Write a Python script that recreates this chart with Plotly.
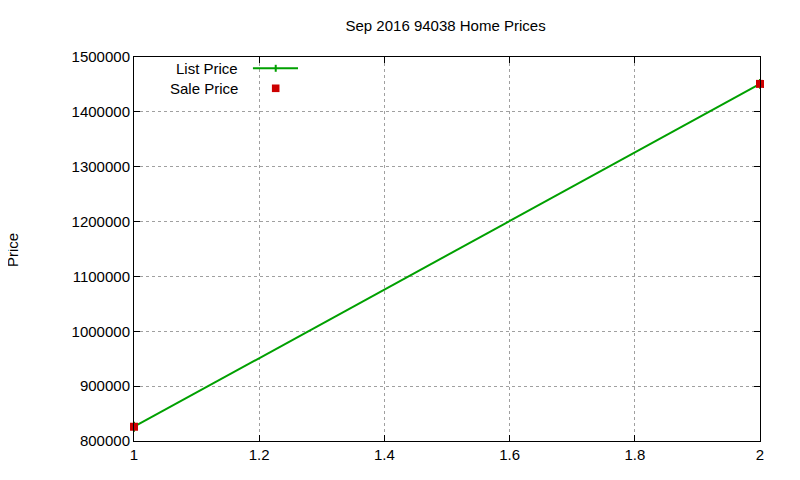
import plotly.graph_objects as go

# listings for Sep 2016, 94038
x_idx = [1, 2]
list_price = [826000, 1451000]
sale_price = [826000, 1451000]
y_ticks = [800000, 900000, 1000000, 1100000, 1200000, 1300000, 1400000, 1500000]
x_ticks = [1, 1.2, 1.4, 1.6, 1.8, 2]

verde = '#00a000'
vermelho = '#cc0000'
fonte = dict(family='Liberation Sans, Arial', size=15, color='black')

fig = go.Figure()
fig.add_trace(go.Scatter(x=x_idx, y=list_price, mode='lines+markers', name='List Price',
                         line=dict(color=verde, width=2),
                         marker=dict(symbol='line-ns', size=7, line=dict(color=verde, width=2)),
                         cliponaxis=False))
fig.add_trace(go.Scatter(x=x_idx, y=sale_price, mode='markers', name='Sale Price',
                         marker=dict(symbol='square', size=8, color=vermelho),
                         cliponaxis=False))

eixo = dict(showline=True, linecolor='black', linewidth=1, mirror='allticks',
            ticks='inside', ticklen=6, tickcolor='black',
            showgrid=True, gridcolor='#a0a0a0', griddash='dot', gridwidth=1,
            zeroline=False, tickfont=fonte)

fig.update_xaxes(range=[1, 2], tickvals=x_ticks, ticktext=[str(v) for v in x_ticks], **eixo)
fig.update_yaxes(range=[800000, 1500000], tickvals=y_ticks, ticktext=[str(v) for v in y_ticks],
                 ticksuffix=' ', **eixo)

# legenda estilo gnuplot: texto a esquerda, amostra a direita
fig.add_annotation(xref='paper', yref='paper', x=0.1693, y=0.9706, text='List Price',
                   showarrow=False, xanchor='right', yanchor='middle', font=fonte)
fig.add_annotation(xref='paper', yref='paper', x=0.1693, y=0.9185, text='Sale Price',
                   showarrow=False, xanchor='right', yanchor='middle', font=fonte)
fig.add_shape(type='line', xref='paper', yref='paper', x0=0.190, x1=0.262, y0=0.9706, y1=0.9706,
              line=dict(color=verde, width=2))
fig.add_shape(type='line', xref='paper', yref='paper', x0=0.2264, x1=0.2264, y0=0.9615, y1=0.9797,
              line=dict(color=verde, width=2))
fig.add_shape(type='rect', xref='paper', yref='paper', x0=0.2203, x1=0.2324, y0=0.9086, y1=0.9284,
              fillcolor=vermelho, line=dict(width=0))

# titulo do eixo y
fig.add_annotation(xref='paper', yref='paper', x=-0.195, y=0.497, text='Price',
                   showarrow=False, textangle=-90, xanchor='center', yanchor='middle', font=fonte)

fig.update_layout(
    width=800, height=480,
    margin=dict(l=126, r=48, t=49, b=47),
    paper_bgcolor='white', plot_bgcolor='white',
    showlegend=False,
    title=dict(text='Sep 2016 94038 Home Prices', x=0.547, xanchor='center',
               y=0.9635, yanchor='middle', font=fonte),
)

fig.write_html('out.html')
